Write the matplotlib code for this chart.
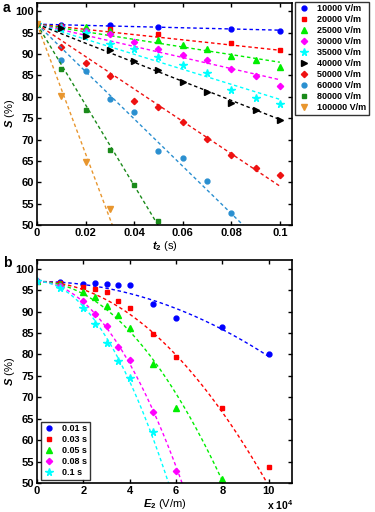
import numpy as np
import matplotlib
matplotlib.use('Agg')
import matplotlib.pyplot as plt
from matplotlib.ticker import FuncFormatter

plt.rcParams['font.family'] = ['Liberation Sans', 'DejaVu Sans']
plt.rcParams['font.weight'] = 'bold'
plt.rcParams['font.size'] = 8
plt.rcParams['mathtext.fontset'] = 'custom'
plt.rcParams['mathtext.it'] = 'Liberation Sans:italic:bold'
plt.rcParams['mathtext.rm'] = 'Liberation Sans:bold'

# ---- data ----
S0 = 97.0

# panel a: S (%) vs t2 (s), one series per field strength E2
fields = [10000, 20000, 25000, 30000, 35000, 40000, 50000, 60000, 80000, 100000]
t_full = [0, 0.01, 0.02, 0.03, 0.04, 0.05, 0.06, 0.07, 0.08, 0.09, 0.1]
t_e1 = [0, 0.01, 0.03, 0.05, 0.08, 0.1]
t_e25 = [0, 0.01, 0.02, 0.03, 0.05, 0.06, 0.07, 0.08, 0.09, 0.1]
t_e6 = [0, 0.01, 0.02, 0.03, 0.04, 0.05, 0.06, 0.07, 0.08]
t_e8 = [0, 0.01, 0.02, 0.03, 0.04, 0.05]
t_e10 = [0, 0.01, 0.02, 0.03]

S_e1 = [97.0, 96.8, 96.7, 96.3, 95.9, 95.5]
S_e2 = [97.0, 96.5, 95.8, 94.6, 92.5, 90.9]
S_e25 = [97.0, 96.6, 96.3, 95.3, 93.3, 92.1, 91.1, 89.5, 88.6, 87.0]
S_e3 = [97.0, 96.3, 95.4, 94.6, 92.8, 91.2, 89.7, 88.7, 86.6, 84.8, 82.6]
S_e35 = [97.0, 96.1, 95.0, 92.4, 91.1, 89.3, 87.5, 85.6, 81.7, 79.8, 78.4]
S_e4 = [97.0, 96.2, 94.2, 90.9, 88.3, 86.2, 83.4, 81.2, 78.6, 76.9, 74.5]
S_e5 = [97.0, 91.7, 88.0, 84.8, 79.0, 77.7, 74.1, 70.2, 66.5, 63.4, 61.8]
S_e6 = [97.0, 88.6, 86.0, 79.4, 76.4, 67.4, 65.6, 60.3, 52.9]
S_e8 = [97.0, 86.4, 77.0, 67.6, 59.3, 51.0]
S_e10 = [97.0, 80.2, 64.7, 53.8]

t_series = [t_e1, t_e1, t_e25, t_full, t_full, t_full, t_full, t_e6, t_e8, t_e10]
S_series = [S_e1, S_e2, S_e25, S_e3, S_e35, S_e4, S_e5, S_e6, S_e8, S_e10]

# dashed fit lines in panel a: decay rate (% per s)
fit_rate_a = [14, 61, 89, 130, 176, 223, 379, 554, 944, 1516]

# panel b: same measurements grouped by treatment time
times_b = [0.01, 0.03, 0.05, 0.08, 0.1]
# dashed fit curves in panel b: drop (%) per (E2 / 1e4 V/m)^2
fit_k_b = [0.175, 0.477, 0.727, 1.20, 1.46]

colors = ['#0000ff', '#ff0000', '#00ee00', '#ff00ff', '#00ffff',
          '#000000', '#ee1111', '#2a8fd0', '#1a8a1a', '#e8962e']
markers = ['o', 's', '^', 'D', '*', '>', 'D', 'o', 's', 'v']
msizes = [3.5, 3.5, 4.5, 3.2, 5.5, 4.5, 3.2, 3.5, 3.5, 4.5]


def style_axes(ax):
    ax.tick_params(direction='in', top=True, right=True, length=3, width=1,
                   labelsize=8, pad=2)
    for sp in ax.spines.values():
        sp.set_linewidth(1.2)


fig = plt.figure(figsize=(3.75, 5.12), dpi=100)

# ---------------- panel a ----------------
ax1 = fig.add_axes([0.0987, 0.5605, 0.68, 0.434])
for i, E in enumerate(fields):
    tt = np.linspace(0, 0.1, 200)
    ax1.plot(tt, S0 - fit_rate_a[i] * tt, '--', color=colors[i], lw=1, dashes=(2.5, 2))
    ax1.plot(t_series[i], S_series[i], linestyle='none', marker=markers[i],
             ms=msizes[i], color=colors[i], mec=colors[i],
             label=f'{E} V/m')
ax1.set_xlim(0, 0.105)
ax1.set_ylim(50, 102)
ax1.set_xticks([0, 0.02, 0.04, 0.06, 0.08, 0.1])
ax1.set_xticklabels(['0', '0.02', '0.04', '0.06', '0.08', '0.1'])
ax1.set_yticks(np.arange(50, 101, 5))
ax1.set_xlabel('$t_2$ (s)', labelpad=1)
ax1.set_ylabel('$S$ (%)', labelpad=-1)
style_axes(ax1)
h1, l1 = ax1.get_legend_handles_labels()
leg1 = fig.legend(h1, l1, loc='upper left', bbox_to_anchor=(0.787, 0.997),
                  fontsize=6.5, frameon=True, fancybox=False, edgecolor='black',
                  handlelength=1.3, handletextpad=0.8, labelspacing=0.22,
                  borderpad=0.3, borderaxespad=0)
leg1.get_frame().set_linewidth(1)

# ---------------- panel b ----------------
ax2 = fig.add_axes([0.0987, 0.0566, 0.68, 0.4355])
for j, tb in enumerate(times_b):
    E_pts = [0.0]
    S_pts = [S0]
    for i, E in enumerate(fields):
        if tb in t_series[i]:
            E_pts.append(E)
            S_pts.append(S_series[i][t_series[i].index(tb)])
    ee = np.linspace(0, 1e5, 300)
    ax2.plot(ee, S0 - fit_k_b[j] * (ee / 1e4) ** 2, '--', color=colors[j], lw=1, dashes=(2.5, 2))
    ax2.plot(E_pts, S_pts, linestyle='none', marker=markers[j], ms=msizes[j],
             color=colors[j], mec=colors[j], label=f'{tb:g} s')
ax2.set_xlim(0, 1.1e5)
ax2.set_ylim(50, 102)
ax2.set_xticks(np.arange(0, 1.01e5, 2e4))
ax2.xaxis.set_major_formatter(FuncFormatter(lambda v, p: f'{v / 1e4:g}'))
ax2.set_yticks(np.arange(50, 101, 5))
ax2.set_xlabel('$E_2$ (V/m)', labelpad=1)
ax2.set_ylabel('$S$ (%)', labelpad=-1)
style_axes(ax2)
leg2 = ax2.legend(loc='lower left', bbox_to_anchor=(0.014, 0.014), fontsize=6.5,
                  frameon=True, fancybox=False, edgecolor='black',
                  handlelength=1.3, handletextpad=0.8, labelspacing=0.22,
                  borderpad=0.3, borderaxespad=0)
leg2.get_frame().set_linewidth(1)

fig.text(0.713, 0.004, r'x 10$^4$', fontsize=7.5)
fig.text(0.008, 0.977, 'a', fontsize=10, fontweight='bold')
fig.text(0.008, 0.478, 'b', fontsize=10, fontweight='bold')

fig.savefig('out.png', dpi=100)
